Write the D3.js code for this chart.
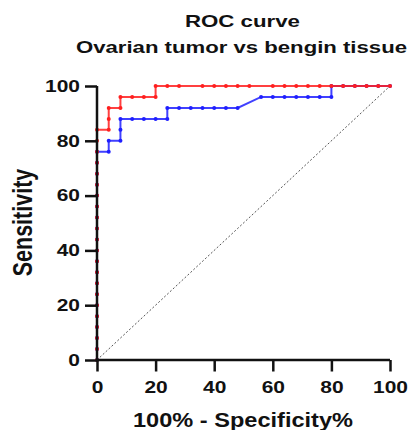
<!DOCTYPE html>
<html><head><meta charset="utf-8">
<script src="https://cdn.jsdelivr.net/npm/d3@7"></script>
<style>
html,body{margin:0;padding:0;background:#fff;}
text{font-family:"Liberation Sans",Arial,sans-serif;font-weight:bold;fill:#111;}
</style></head>
<body>
<svg id="c" width="409" height="430"></svg>
<script>
const titleLines = ["ROC curve", "Ovarian tumor vs bengin tissue"];
const xLabel = "100% - Specificity%";
const yLabel = "Sensitivity";
const xTicks = [0, 20, 40, 60, 80, 100];
const yTicks = [0, 20, 40, 60, 80, 100];

const redX = [0,0,0,0,0,0,0,0,0,0,0,0,0,0,0,0,0,0,0,0,0,0,
  4,4,4, 8,8, 12,16,20,20,
  24,28,36,40,44,48,52,60,64,68,72,76,80,84,88,92,96,100];
const redY = [0,4,8,12,16,20,24,28,32,36,40,44,48,52,56,60,64,68,72,76,80,84,
  84,88,92, 92,96, 96,96,96,100,
  100,100,100,100,100,100,100,100,100,100,100,100,100,100,100,100,100,100];

const blueX = [0,0,0,0,0,0,0,0,0,0,0,0,0,0,0,0,0,0,0,0,
  4,4, 8,8,8, 12,16,20,24,24,
  28,32,36,40,44,48, 56,60,64,68,72,76,80,80,
  84,88,92,96,100];
const blueY = [0,4,8,12,16,20,24,28,32,36,40,44,48,52,56,60,64,68,72,76,
  76,80, 80,84,88, 88,88,88,88,92,
  92,92,92,92,92,92, 96,96,96,96,96,96,96,100,
  100,100,100,100,100];

const STRETCH = 1.27;
const svg = d3.select("#c");
const x = d3.scaleLinear().domain([0,100]).range([97,390]);
const y = d3.scaleLinear().domain([0,100]).range([360,86]);

function stretchText(sel, factor){
  sel.each(function(){
    const w = this.getComputedTextLength();
    d3.select(this).attr("textLength", w*factor).attr("lengthAdjust","spacingAndGlyphs");
  });
}

// title
const t1 = svg.append("text").attr("x",242.5).attr("y",27).attr("text-anchor","middle")
  .style("font-size","16.5px").text(titleLines[0]);
const t2 = svg.append("text").attr("x",241.5).attr("y",53).attr("text-anchor","middle")
  .style("font-size","16.5px").text(titleLines[1]);
t1.attr("textLength",115).attr("lengthAdjust","spacingAndGlyphs");
t2.attr("textLength",331).attr("lengthAdjust","spacingAndGlyphs");

// diagonal
svg.append("line").attr("x1",x(0)).attr("y1",y(0)).attr("x2",x(100)).attr("y2",y(100))
  .attr("stroke","#555").attr("stroke-width",1).attr("stroke-dasharray","2,2");

function series(xs, ys, color){
  const pts = xs.map((v,i)=>[v, ys[i]]);
  const line = d3.line().x(d=>x(d[0])).y(d=>y(d[1]));
  svg.append("path").datum(pts).attr("d",line).attr("fill","none")
    .attr("stroke",color).attr("stroke-width",2).attr("stroke-opacity",0.85);
  svg.append("g").selectAll("circle").data(pts).join("circle")
    .attr("cx",d=>x(d[0])).attr("cy",d=>y(d[1])).attr("r",2).attr("fill",color);
}
series(blueX, blueY, "#1f1fff");
series(redX, redY, "#ff1f1f");

// axes
const xAxis = d3.axisBottom(x).tickValues(xTicks).tickSize(11.5).tickPadding(10);
const gx = svg.append("g").attr("transform",`translate(0,${y(0)})`).call(xAxis);
const yAxis = d3.axisLeft(y).tickValues(yTicks).tickSize(12).tickPadding(5);
const gy = svg.append("g").attr("transform",`translate(${x(0)},0)`).call(yAxis);
[gx,gy].forEach(g=>{
  g.select(".domain").attr("stroke","#111").attr("stroke-width",2.5);
  g.selectAll(".tick line").attr("stroke","#111").attr("stroke-width",2.5);
  g.selectAll(".tick text").style("font-family","'Liberation Sans',Arial,sans-serif")
    .style("font-weight","bold").style("font-size","16.5px").attr("fill","#111");
  stretchText(g.selectAll(".tick text"), STRETCH);
});
gx.select(".domain").attr("d",`M${x(0)},0H${x(100)}`);
gy.select(".domain").attr("d",`M0,${y(0)}V${y(100)}`);

svg.append("text").attr("x",243).attr("y",427).attr("text-anchor","middle")
  .style("font-size","19.5px").attr("textLength",220).attr("lengthAdjust","spacingAndGlyphs")
  .text(xLabel);
svg.append("text").attr("transform",`translate(32,222.5) scale(${STRETCH},1) rotate(-90)`)
  .attr("text-anchor","middle").style("font-size","21.5px").text(yLabel);
</script>
</body></html>
